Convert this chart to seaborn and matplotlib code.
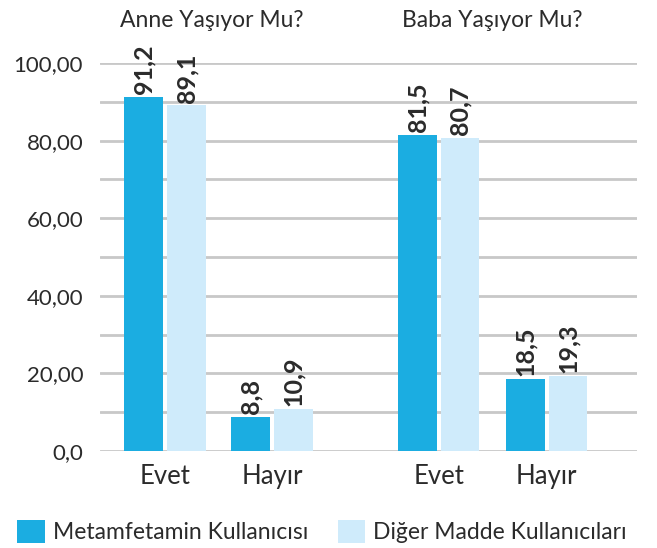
import pandas as pd
import matplotlib.pyplot as plt
import matplotlib.transforms as mtransforms
import seaborn as sns

# Anne / Baba yaşıyor mu? - metamfetamin vs diğer madde kullanıcıları (%)
groups = ['Anne Yaşıyor Mu?', 'Baba Yaşıyor Mu?']
answers = ['Evet', 'Hayır']
series = ['Metamfetamin Kullanıcısı', 'Diğer Madde Kullanıcıları']
metamfetamin = [91.2, 8.8, 81.5, 18.5]
diger = [89.1, 10.9, 80.7, 19.3]
y_ticks = [0, 20, 40, 60, 80, 100]
y_tick_labels = ['0,0', '20,00', '40,00', '60,00', '80,00', '100,00']

colors = ['#1badE1', '#cfebfb']
text_color = '#2b2b2b'

# x positions: second group pushed a bit further right
positions = [0.0, 1.0, 2.56, 3.57]
labels = answers * len(groups)

rows = []
for s, vals in zip(series, [metamfetamin, diger]):
    for p, v in zip(positions, vals):
        rows.append({'pos': p, 'value': v, 'series': s})
df = pd.DataFrame(rows)

sns.set_style('white')
plt.rcParams['font.family'] = ['Lato', 'DejaVu Sans']

fig = plt.figure(figsize=(6.57, 5.48), dpi=100)
ax = fig.add_axes([0.152, 0.177, 0.817, 0.708])

sns.barplot(data=df, x='pos', y='value', hue='series', palette=colors,
            native_scale=True, width=0.8, gap=0.1, saturation=1,
            linewidth=0, ax=ax, legend=True)

ax.set_ylim(0, 100)
ax.set_xlim(-0.61, 4.41)
ax.set_yticks(range(0, 101, 10))
ax.set_yticklabels([y_tick_labels[y_ticks.index(t)] if t in y_ticks else ''
                    for t in range(0, 101, 10)])
ax.yaxis.grid(True, color='#c8c8c8', linewidth=2)
ax.set_axisbelow(True)
ax.set_xticks(positions)
ax.set_xticklabels(labels)
ax.tick_params(axis='both', length=0)
ax.tick_params(axis='y', labelsize=16, labelcolor=text_color, pad=12)
ax.tick_params(axis='x', labelsize=18.5, labelcolor=text_color, pad=9)
ax.set_xlabel('')
ax.set_ylabel('')
for sp in ax.spines.values():
    sp.set_visible(False)

# value labels on bars
for cont in ax.containers:
    for bar in cont:
        h = bar.get_height()
        ax.annotate(f'{h:.1f}'.replace('.', ','),
                    (bar.get_x() + bar.get_width() / 2, h),
                    xytext=(0, 2), textcoords='offset points',
                    rotation=90, ha='center', va='bottom',
                    fontsize=18, fontweight='bold', color=text_color)

# group titles above the plot
trans = mtransforms.blended_transform_factory(ax.transData, fig.transFigure)
for g, x in zip(groups, [0.435, 3.06]):
    ax.text(x, 0.963, g, transform=trans, ha='center', va='center',
            fontsize=16.5, color=text_color)

handles, leg_labels = ax.get_legend_handles_labels()
ax.get_legend().remove()
fig.legend(handles, leg_labels, loc='center left', bbox_to_anchor=(0.026, 0.03),
           ncol=2, frameon=False, fontsize=16.5, handlelength=1.2,
           handleheight=1.2, handletextpad=0.35, columnspacing=1.3,
           borderaxespad=0, borderpad=0, labelcolor=text_color)

plt.savefig('out.png', dpi=100)
